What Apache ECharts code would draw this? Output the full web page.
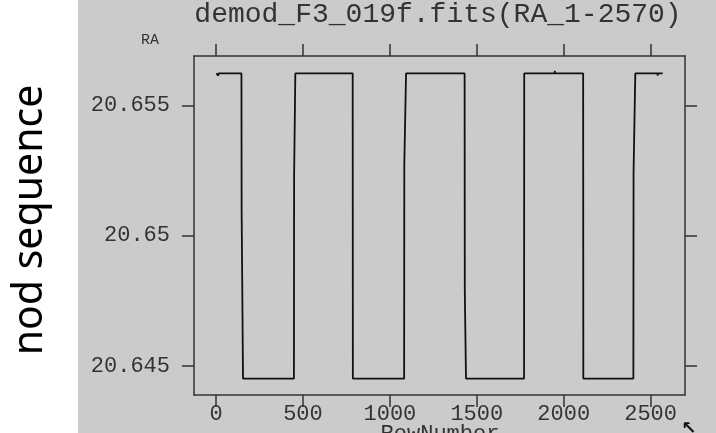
<!DOCTYPE html>
<html>
<head>
<meta charset="utf-8">
<script src="https://cdn.jsdelivr.net/npm/echarts@6/dist/echarts.min.js"></script>
<style>
html, body { margin: 0; padding: 0; background: #fff; }
#wrap { position: relative; width: 716px; height: 433px; overflow: hidden; }
#panel { position: absolute; left: 78px; top: 0; width: 638px; height: 433px; background: #cbcbcb; }
#chart { position: absolute; left: 0; top: 0; width: 716px; height: 433px; }
</style>
</head>
<body>
<div id="wrap">
	<div id="panel"></div>
	<div id="chart"></div>
</div>
<script>
// tick positions
const xTicks = [0, 500, 1000, 1500, 2000, 2500];
const yTicks = [20.645, 20.65, 20.655];

// RA, one entry per visible sample / step
const rowNumber = [
	1, 12, 13, 14, 60, 61, 62, 146, 147, 154, 155,
	190, 191, 192, 260, 261, 262, 330, 331, 332, 448, 449, 455, 456,
	520, 521, 522, 660, 661, 662, 786, 787,
	870, 871, 872, 950, 951, 952, 1010, 1011, 1012, 1082, 1083, 1092, 1093,
	1130, 1131, 1132, 1160, 1161, 1162, 1300, 1301, 1302, 1430, 1431, 1437, 1438,
	1520, 1521, 1522, 1600, 1601, 1602, 1690, 1691, 1692, 1772, 1773,
	1850, 1851, 1852, 1948, 1949, 1950, 1960, 1961, 1962, 2030, 2031, 2032, 2112, 2113,
	2200, 2201, 2202, 2280, 2281, 2282, 2350, 2351, 2352, 2401, 2402, 2411, 2412,
	2540, 2541, 2542, 2570
];
const raValue = [
	20.65622, 20.65622, 20.65614, 20.65622, 20.65622, 20.65627, 20.65622, 20.65622, 20.6510, 20.6510, 20.64452,
	20.64452, 20.64445, 20.64452, 20.64452, 20.64446, 20.64452, 20.64452, 20.64445, 20.64452, 20.64452, 20.6523, 20.6523, 20.65622,
	20.65622, 20.65629, 20.65622, 20.65622, 20.65615, 20.65622, 20.65622, 20.64452,
	20.64452, 20.64445, 20.64452, 20.64452, 20.64446, 20.64452, 20.64452, 20.64445, 20.64452, 20.64452, 20.6527, 20.6527, 20.65622,
	20.65622, 20.65628, 20.65622, 20.65622, 20.65616, 20.65622, 20.65622, 20.65628, 20.65622, 20.65622, 20.6479, 20.6479, 20.64452,
	20.64452, 20.64445, 20.64452, 20.64452, 20.64446, 20.64452, 20.64452, 20.64445, 20.64452, 20.64452, 20.65622,
	20.65622, 20.65628, 20.65622, 20.65622, 20.65632, 20.65622, 20.65622, 20.65615, 20.65622, 20.65622, 20.65628, 20.65622, 20.65622, 20.64452,
	20.64452, 20.64445, 20.64452, 20.64452, 20.64446, 20.64452, 20.64452, 20.64445, 20.64452, 20.64452, 20.6524, 20.6524, 20.65622,
	20.65622, 20.65614, 20.65622, 20.65622
];

const ink = '#333';
const mono = '"Liberation Mono", monospace';

const chart = echarts.init(document.getElementById('chart'));
const points = rowNumber.map(function (r, i) { return [r, raValue[i]]; });

const tickStyle = { show: true, length: 12, lineStyle: { color: ink, width: 1.5 } };

const option = {
	animation: false,
	backgroundColor: 'transparent',
	grid: { left: 194, right: 31, top: 56, bottom: 38 },
	xAxis: [
		{
			type: 'value', position: 'bottom', min: -127, max: 2698,
			axisLine: { show: true, onZero: false, lineStyle: { color: ink, width: 1.5 } },
			axisTick: Object.assign({ customValues: xTicks }, tickStyle),
			axisLabel: {
				customValues: xTicks, margin: 8, color: ink, fontFamily: mono, fontSize: 22,
				formatter: function (v) { return String(v); }
			},
			splitLine: { show: false }
		},
		{
			type: 'value', position: 'top', min: -127, max: 2698,
			axisLine: { show: true, onZero: false, lineStyle: { color: ink, width: 1.5 } },
			axisTick: Object.assign({ customValues: xTicks }, tickStyle),
			axisLabel: { show: false },
			splitLine: { show: false }
		}
	],
	yAxis: [
		{
			type: 'value', position: 'left', min: 20.64389, max: 20.65689,
			axisLine: { show: true, onZero: false, lineStyle: { color: ink, width: 1.5 } },
			axisTick: Object.assign({ customValues: yTicks }, tickStyle),
			axisLabel: {
				customValues: yTicks, margin: 24, color: ink, fontFamily: mono, fontSize: 22,
				formatter: function (v) { return String(parseFloat(Number(v).toFixed(3))); }
			},
			splitLine: { show: false }
		},
		{
			type: 'value', position: 'right', min: 20.64389, max: 20.65689,
			axisLine: { show: true, onZero: false, lineStyle: { color: ink, width: 1.5 } },
			axisTick: Object.assign({ customValues: yTicks }, tickStyle),
			axisLabel: { show: false },
			splitLine: { show: false }
		}
	],
	graphic: [
		{
			type: 'text', x: 438, y: 15,
			style: { text: 'demod_F3_019f.fits(RA_1-2570)', font: 'normal 28px ' + mono, fill: ink, align: 'center', verticalAlign: 'middle' }
		},
		{
			type: 'text', x: 150, y: 40,
			style: { text: 'RA', font: 'normal 15px ' + mono, fill: ink, align: 'center', verticalAlign: 'middle' }
		},
		{
			type: 'text', x: 440, y: 423,
			style: { text: 'RowNumber', font: 'normal 22px ' + mono, fill: ink, align: 'center', verticalAlign: 'top' }
		},
		{
			type: 'text', x: 689, y: 429,
			style: { text: '↖', font: 'bold 18px "DejaVu Sans"', fill: '#111', align: 'center', verticalAlign: 'middle' }
		},
		{
			type: 'text', x: 30, y: 220, rotation: Math.PI / 2,
			style: { text: 'nod sequence', font: 'normal 41px "Noto Sans"', fill: '#000', align: 'center', verticalAlign: 'middle' }
		}
	],
	series: [
		{
			type: 'line',
			xAxisIndex: 0,
			yAxisIndex: 0,
			data: points,
			showSymbol: false,
			lineStyle: { color: '#111', width: 1.8 }
		}
	]
};
chart.setOption(option);
</script>
</body>
</html>
